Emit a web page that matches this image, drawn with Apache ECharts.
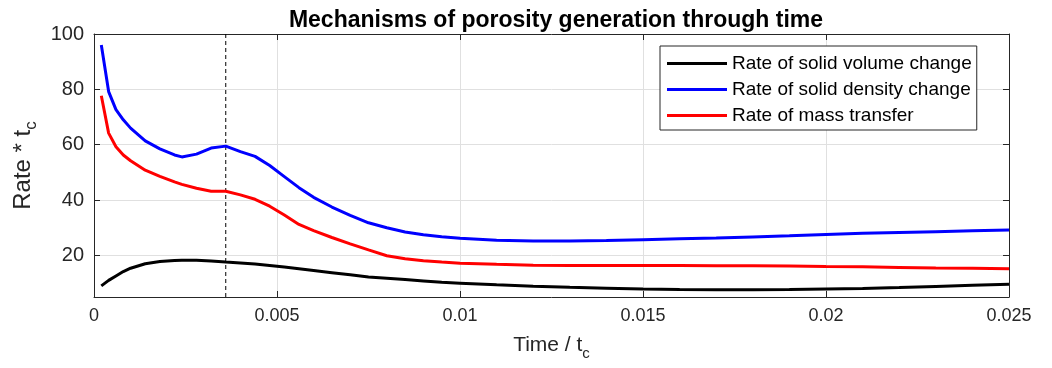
<!DOCTYPE html>
<html>
<head>
<meta charset="utf-8">
<script src="https://cdn.jsdelivr.net/npm/echarts@6/dist/echarts.min.js"></script>
<style>
html,body{margin:0;padding:0;background:#fff;}
#chart{width:1052px;height:368px;}
</style>
</head>
<body>
<div id="chart"></div>
<script>
const time = [0.0002,0.0004,0.0006,0.0008,0.001,0.0014,0.0018,0.0022,0.0024,0.0028,0.0032,0.0036,0.004,0.0044,0.0048,0.0052,0.0056,0.006,0.0065,0.007,0.0075,0.008,0.0085,0.009,0.0095,0.01,0.011,0.012,0.013,0.014,0.015,0.016,0.017,0.018,0.019,0.02,0.021,0.022,0.023,0.024,0.025];
const solidVolume = [9.0,11.0,12.6,14.2,15.4,17.0,17.8,18.2,18.3,18.3,18.0,17.6,17.3,16.9,16.4,15.8,15.2,14.6,13.8,13.0,12.2,11.8,11.3,10.8,10.3,10.0,9.4,8.9,8.5,8.2,7.9,7.7,7.6,7.6,7.7,7.9,8.1,8.4,8.8,9.2,9.6];
const solidDensity = [96.0,79.2,72.7,69.0,66.0,61.4,58.5,56.3,55.6,56.6,58.8,59.5,57.5,55.8,52.5,48.5,44.5,41.0,37.5,34.5,31.8,30.0,28.5,27.5,26.8,26.2,25.5,25.2,25.2,25.4,25.7,26.0,26.3,26.7,27.1,27.6,28.0,28.3,28.6,28.9,29.2];
const massTransfer = [77.7,64.2,59.3,56.3,54.2,50.8,48.6,46.6,45.7,44.3,43.2,43.2,41.9,40.3,37.8,34.6,31.2,29.0,26.5,24.2,22.0,19.9,18.8,18.1,17.6,17.2,16.8,16.5,16.4,16.4,16.4,16.4,16.3,16.3,16.2,16.0,15.9,15.7,15.5,15.4,15.2];
const seriesNames = ['Rate of solid volume change','Rate of solid density change','Rate of mass transfer'];
const yRange = [5, 100];
const yTicks = [20,40,60,80,100];
const xRange = [0, 0.025];
const markerTime = 0.0036;

const axisColor = '#262626';
const textColor = '#262626';
const font = 'Liberation Sans, Arial, sans-serif';

function pairs(vals){ return time.map((t,i)=>[t, vals[i]]); }

const chart = echarts.init(document.getElementById('chart'), null, {renderer:'canvas'});
const option = {
  animation:false,
  backgroundColor:'#fff',
  title:{
    text:'Mechanisms of porosity generation through time',
    left:551, top:4, textAlign:'center',
    textStyle:{fontFamily:font, fontWeight:'bold', fontSize:23, color:'#000'}
  },
  legend:{
    orient:'vertical',
    left:660, top:46,
    data:seriesNames,
    icon:'rect',
    itemWidth:60, itemHeight:3,
    itemGap:7,
    padding:[8,5,5,7],
    borderColor:axisColor, borderWidth:1,
    backgroundColor:'#fff',
    textStyle:{fontFamily:font, fontSize:19, color:'#000'}
  },
  grid:{left:94, right:43, top:34, bottom:71, containLabel:false},
  xAxis:[{
    type:'value', min:xRange[0], max:xRange[1], interval:0.005,
    position:'bottom',
    name:'{s|Time / t}{sub|c}',
    nameLocation:'middle', nameGap:33,
    nameTextStyle:{fontFamily:font, fontSize:20, color:textColor,
      rich:{s:{fontFamily:font, fontSize:21, color:textColor}, sub:{fontFamily:font, fontSize:15, color:textColor, padding:[16,0,0,0]}}},
    axisLine:{show:true, onZero:false, lineStyle:{color:axisColor, width:1}},
    axisTick:{show:true, inside:true, length:6, lineStyle:{color:axisColor}},
    axisLabel:{fontFamily:font, fontSize:18, color:textColor, margin:10,
      formatter:v=>String(+v.toFixed(3))},
    splitLine:{show:true, lineStyle:{color:'#e0e0e0', width:1}}
  },{
    type:'value', min:xRange[0], max:xRange[1], interval:0.005,
    position:'top',
    axisLine:{show:true, onZero:false, lineStyle:{color:axisColor, width:1}},
    axisTick:{show:true, inside:true, length:6, lineStyle:{color:axisColor}},
    axisLabel:{show:false},
    splitLine:{show:false}
  }],
  yAxis:[{
    type:'value', min:yRange[0], max:yRange[1],
    position:'left',
    name:'{s|Rate * t}{sub|c}',
    nameLocation:'middle', nameGap:39, nameRotate:90,
    nameTextStyle:{fontFamily:font, fontSize:24, color:textColor,
      rich:{s:{fontFamily:font, fontSize:24, color:textColor}, sub:{fontFamily:font, fontSize:17, color:textColor, padding:[16,0,0,0]}}},
    axisLine:{show:true, onZero:false, lineStyle:{color:axisColor, width:1}},
    axisTick:{show:true, inside:true, length:6, lineStyle:{color:axisColor}, customValues:yTicks},
    axisLabel:{fontFamily:font, fontSize:20, color:textColor, margin:10, customValues:yTicks},
    splitLine:{show:true, lineStyle:{color:'#e0e0e0', width:1}}
  },{
    type:'value', min:yRange[0], max:yRange[1],
    position:'right',
    axisLine:{show:true, onZero:false, lineStyle:{color:axisColor, width:1}},
    axisTick:{show:true, inside:true, length:6, lineStyle:{color:axisColor}, customValues:yTicks},
    axisLabel:{show:false, customValues:yTicks},
    splitLine:{show:false}
  }],
  series:[{
    name:'marker', type:'line',
    data:[[markerTime, yRange[0]],[markerTime, yRange[1]]],
    showSymbol:false, symbol:'none', silent:true,
    lineStyle:{color:'#000', type:[4,3], width:1}, z:2
  },{
    name:seriesNames[0], type:'line', data:pairs(solidVolume),
    showSymbol:false, symbol:'none', smooth:false,
    lineStyle:{color:'#000000', width:3}, itemStyle:{color:'#000000'}, z:5
  },{
    name:seriesNames[1], type:'line', data:pairs(solidDensity),
    showSymbol:false, symbol:'none',
    lineStyle:{color:'#0000ff', width:3}, itemStyle:{color:'#0000ff'}, z:4
  },{
    name:seriesNames[2], type:'line', data:pairs(massTransfer),
    showSymbol:false, symbol:'none',
    lineStyle:{color:'#ff0000', width:3}, itemStyle:{color:'#ff0000'}, z:4
  }]
};
chart.setOption(option);
</script>
</body>
</html>
